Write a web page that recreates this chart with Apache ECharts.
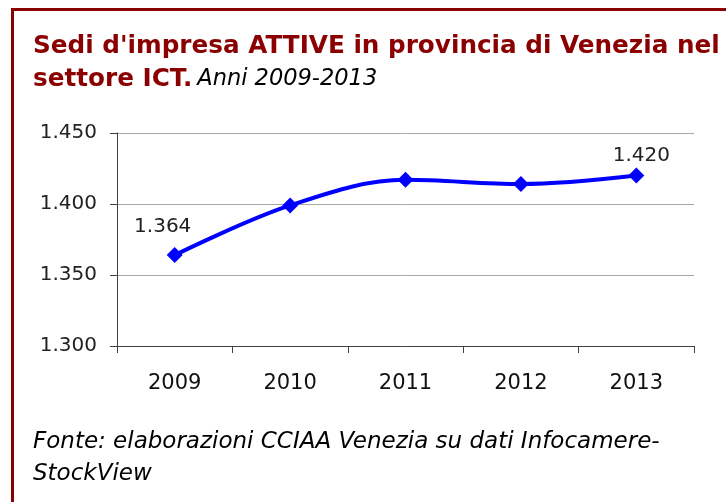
<!DOCTYPE html>
<html lang="it">
<head>
  <meta charset="UTF-8">
  <title>Sedi d'impresa ATTIVE - ICT Venezia</title>
  <script src="https://cdn.jsdelivr.net/npm/echarts@6.0.0/dist/echarts.min.js"></script>
  <style>
    html, body { margin: 0; padding: 0; background: #fff; }
    #main { width: 726px; height: 502px; }
  </style>
</head>
<body>
  <div id="main"></div>
  <script>
    // dati
    const anni = ['2009', '2010', '2011', '2012', '2013'];
    const sedi = [1364, 1399, 1417, 1414, 1420];
    const yMin = 1300, yMax = 1450, yStep = 50;

    const dark = '#8B0000';
    const font = 'DejaVu Sans';

    // 1364 -> "1.364"
    function fmt(v) {
      return String(Math.round(v)).replace(/\B(?=(\d{3})+$)/g, '.');
    }

    // etichette solo sul primo e sull'ultimo punto
    const seriesData = sedi.map(function (v, i) {
      let item = { value: v };
      if (i === 0) item.label = { show: true, offset: [-12, -5] };
      if (i === sedi.length - 1) item.label = { show: true, offset: [5, 3] };
      return item;
    });

    let myChart = echarts.init(document.getElementById('main'));

    let option = {
      backgroundColor: '#fff',
      animation: false,
      title: {
        left: 28,
        top: 25,
        text: "{a|Sedi d'impresa ATTIVE in provincia di Venezia nel}\n{a|settore ICT.} {i|Anni 2009-2013}",
        textStyle: {
          rich: {
            a: { fontFamily: font, fontWeight: 'bold', fontSize: 24.7, color: dark, lineHeight: 33 },
            i: { fontFamily: font, fontWeight: 'normal', fontStyle: 'italic', fontSize: 22.5, color: '#000', lineHeight: 33 }
          }
        }
      },
      graphic: [
        // cornice (solo lato sinistro e superiore visibili)
        { type: 'rect', shape: { x: 11, y: 8, width: 715, height: 3 }, style: { fill: dark } },
        { type: 'rect', shape: { x: 11, y: 8, width: 3, height: 494 }, style: { fill: dark } },
        {
          type: 'text', left: 33, top: 426,
          style: {
            text: 'Fonte: elaborazioni CCIAA Venezia su dati Infocamere-\nStockView',
            font: 'italic 23px "DejaVu Sans"',
            fill: '#000',
            lineHeight: 32
          }
        }
      ],
      grid: { left: 117, right: 32, top: 133, bottom: 156 },
      xAxis: {
        type: 'category',
        data: anni,
        boundaryGap: true,
        axisLine: { lineStyle: { color: '#404040', width: 1 } },
        axisTick: { show: true, length: 7, lineStyle: { color: '#404040' } },
        axisLabel: { margin: 27, fontFamily: font, fontSize: 21, color: '#111' },
        splitLine: { show: false }
      },
      yAxis: {
        type: 'value',
        min: yMin,
        max: yMax,
        interval: yStep,
        axisLine: { show: true, lineStyle: { color: '#404040', width: 1 } },
        axisTick: { show: true, length: 7, lineStyle: { color: '#404040' } },
        axisLabel: { margin: 20, fontFamily: font, fontSize: 20, color: '#222', formatter: fmt },
        splitLine: { lineStyle: { color: '#a8a8a8', width: 1 } }
      },
      series: [{
        type: 'line',
        data: seriesData,
        smooth: 0.35,
        symbol: 'diamond',
        symbolSize: 16,
        lineStyle: { color: '#0000FF', width: 4 },
        itemStyle: { color: '#0000FF' },
        label: {
          show: false,
          position: 'top',
          fontFamily: font,
          fontSize: 20,
          color: '#222',
          formatter: function (p) { return fmt(p.value); }
        }
      }]
    };
    myChart.setOption(option);
  </script>
</body>
</html>
